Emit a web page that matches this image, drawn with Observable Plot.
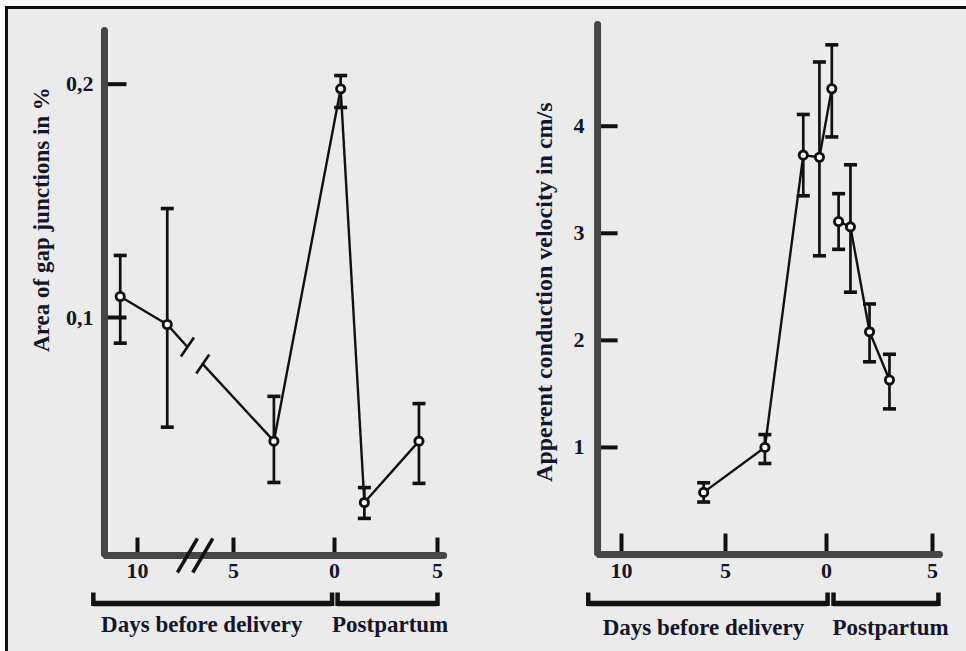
<!DOCTYPE html>
<html>
<head>
<meta charset="utf-8">
<script src="https://cdn.jsdelivr.net/npm/d3@7"></script>
<script src="https://cdn.jsdelivr.net/npm/@observablehq/plot@0.6"></script>
<style>
  body { margin: 0; background: #fff; }
  #page { position: relative; width: 966px; height: 651px; overflow: hidden; background: #fff; }
  #sheet { position: absolute; left: 5px; top: 6px; right: 0; bottom: 0;
           border-top: 3px solid #111; border-left: 3px solid #111; background: #ebebeb; }
  #page svg { position: absolute; left: 0; top: 0; }
</style>
</head>
<body>
<div id="page"><div id="sheet"></div></div>
<script>
// Left panel: area of gap junctions (%) around delivery (negative days = before delivery)
const gapDays = [-10.9, -8.45, -3.0, 0.3, 1.45, 4.1];
const gapArea = [0.109, 0.097, 0.047, 0.198, 0.0207, 0.047];
const gapLow  = [0.089, 0.053, 0.0293, 0.190, 0.0139, 0.0289];
const gapHigh = [0.1266, 0.1467, 0.0662, 0.2037, 0.0271, 0.0631];
const gapBreakDays = [-7.4, -6.6];           // interruption of the time axis

// Right panel: apparent conduction velocity (cm/s)
const velDays  = [-6.05, -3.05, -1.15, -0.35, 0.25, 0.57, 1.13, 2.03, 2.97];
const velocity = [0.58, 1.0, 3.73, 3.71, 4.35, 3.11, 3.06, 2.08, 1.63];
const velLow   = [0.49, 0.85, 3.35, 2.79, 3.90, 2.85, 2.45, 1.80, 1.36];
const velHigh  = [0.67, 1.12, 4.11, 4.60, 4.76, 3.37, 3.64, 2.34, 1.87];
const velRun   = [1, 1, 1, 1, 1, 2, 2, 2, 2];   // connected runs of the trace

// Axes
const dayTicks = [-10, -5, 0, 5];
const dayTickLabels = ["10", "5", "0", "5"];
const gapTicks = [0.1, 0.2];
const gapTickLabels = ["0,1", "0,2"];
const velTicks = [1, 2, 3, 4];
const velTickLabels = ["1", "2", "3", "4"];
const periodNames = ["Days before delivery", "Postpartum"];

const ink = "#111";
const textInk = "#16162a";
const axisGray = "#474747";
const serif = "'Liberation Serif', 'Times New Roman', serif";

// small stroke-only glyphs used with Plot.dot
const seg = (x1, y1, x2, y2) => ({ draw(c) { c.moveTo(x1, y1); c.lineTo(x2, y2); } });
const cap = seg(-6.5, 0, 6.5, 0);

function panel(cfg) {
  const rows = cfg.days.map((d, i) => ({ day: d, v: cfg.values[i], low: cfg.low[i], high: cfg.high[i] }));
  const [x0, x1] = cfg.axisDays;
  const [v0, v1] = cfg.axisValues;
  const axisPath = [{ day: x0, v: v1 }, { day: x0, v: v0 }, { day: x1, v: v0 }];
  const periods = periodNames.map((name, i) => ({
    name, from: cfg.spans[i][0], to: cfg.spans[i][1], center: cfg.labelCenters[i]
  }));
  const periodEnds = periods.flatMap(p => [p.from, p.to]);
  const txt = { fontFamily: serif, fontWeight: "bold", fill: textInk };

  return Plot.plot({
    width: 966, height: 651, margin: 0,
    style: { background: "transparent", overflow: "visible", fontFamily: serif },
    x: { type: "linear", domain: cfg.xDomain, range: cfg.xRange, axis: null },
    y: { type: "linear", domain: cfg.yDomain, range: cfg.yRange, axis: null },
    marks: [
      // tick marks, drawn inside the axes
      Plot.dot(cfg.yTicks, { x: () => x0, y: d => d, symbol: seg(0, 0, cfg.yTickLen, 0),
        fill: "none", stroke: ink, strokeWidth: 4 }),
      Plot.dot(dayTicks, { x: d => d, y: () => v0, symbol: seg(0, 0, 0, -cfg.xTickLen),
        fill: "none", stroke: ink, strokeWidth: 4 }),
      // axis lines
      Plot.line(axisPath, { x: "day", y: "v", stroke: axisGray, strokeWidth: 7,
        strokeLinejoin: "miter", strokeLinecap: "round" }),
      // axis break
      Plot.dot(cfg.axisBreaks, { x: d => d, y: () => v0, symbol: seg(-10, 17, 10, -17),
        fill: "none", stroke: ink, strokeWidth: 3.5 }),
      // tick labels
      Plot.text(dayTicks, { x: d => d, y: () => v0, text: (d, i) => dayTickLabels[i],
        dy: cfg.xLabelDy, fontSize: 22, ...txt }),
      Plot.text(cfg.yTicks, { x: () => x0, y: d => d, text: (d, i) => cfg.yTickLabels[i],
        textAnchor: "end", dx: cfg.yLabelDx, fontSize: 22, ...txt }),
      // axis title
      Plot.text([cfg.title], { x: () => x0, y: () => cfg.titleAt, text: d => d,
        rotate: -90, dx: cfg.titleDx, fontSize: cfg.titleSize, ...txt }),
      // period brackets under the time axis
      Plot.ruleY(periods, { y: () => v0, x1: "from", x2: "to", dy: cfg.bracketDy,
        stroke: ink, strokeWidth: 5.5 }),
      Plot.dot(periodEnds, { x: d => d, y: () => v0, dy: cfg.bracketDy,
        symbol: seg(0, 2.5, 0, -11), fill: "none", stroke: ink, strokeWidth: 4.5 }),
      Plot.text(periods, { x: "center", y: () => v0, text: "name", dy: cfg.periodDy,
        fontSize: 23, ...txt }),
      // data trace
      Plot.line(cfg.trace, { x: "day", y: "v", z: "run", stroke: ink, strokeWidth: 2.4 }),
      ...cfg.extraMarks,
      // error bars
      Plot.ruleX(rows, { x: "day", y1: "low", y2: "high", stroke: ink, strokeWidth: 2.7 }),
      Plot.dot(rows, { x: "day", y: "low", symbol: cap, fill: "none", stroke: ink, strokeWidth: 3.6 }),
      Plot.dot(rows, { x: "day", y: "high", symbol: cap, fill: "none", stroke: ink, strokeWidth: 3.6 }),
      // means
      Plot.dot(rows, { x: "day", y: "v", r: 4.1, fill: "white", stroke: ink, strokeWidth: 2.9 })
    ]
  });
}

// left trace, interrupted where the time axis is broken
const gapRows = gapDays.map((d, i) => ({ day: d, v: gapArea[i] }));
const along = d => {
  const a = gapRows[1], b = gapRows[2];
  return a.v + (b.v - a.v) * (d - a.day) / (b.day - a.day);
};
const gapBreaks = gapBreakDays.map(d => ({ day: d, v: along(d) }));
const gapTrace = [
  ...gapRows.slice(0, 2).map(r => ({ ...r, run: 1 })),
  { ...gapBreaks[0], run: 1 },
  { ...gapBreaks[1], run: 2 },
  ...gapRows.slice(2).map(r => ({ ...r, run: 2 }))
];

const left = panel({
  days: gapDays, values: gapArea, low: gapLow, high: gapHigh,
  xDomain: [-10, -5, 0, 5], xRange: [137, 233, 334, 437],
  yDomain: [-0.002, 0.223], yRange: [555, 30],
  axisDays: [-11.72, 5.3], axisValues: [-0.002, 0.223],
  yTicks: gapTicks, yTickLabels: gapTickLabels,
  yTickLen: 22, xTickLen: 18, xLabelDy: 15, yLabelDx: -11,
  axisBreaks: gapBreakDays,
  title: "Area of gap junctions in %", titleAt: 0.142, titleDx: -63, titleSize: 23,
  spans: [[-12.3, -0.12], [0.15, 5.0]], labelCenters: [-6.65, 2.7],
  bracketDy: 48, periodDy: 69,
  trace: gapTrace,
  extraMarks: [
    Plot.dot(gapBreaks, { x: "day", y: "v", symbol: seg(-6.5, 9.5, 6.5, -9.5),
      fill: "none", stroke: ink, strokeWidth: 2.6 })
  ]
});

const velTrace = velDays.map((d, i) => ({ day: d, v: velocity[i], run: velRun[i] }));
const right = panel({
  days: velDays, values: velocity, low: velLow, high: velHigh,
  xDomain: [-10, -5, 0, 5], xRange: [621, 725, 826, 932],
  yDomain: [0, 4.95], yRange: [554, 24],
  axisDays: [-11.15, 5.33], axisValues: [0, 4.95],
  yTicks: velTicks, yTickLabels: velTickLabels,
  yTickLen: 20, xTickLen: 21, xLabelDy: 16, yLabelDx: -13,
  axisBreaks: [],
  title: "Apperent conduction velocity in cm/s", titleAt: 2.45, titleDx: -53.5, titleSize: 24,
  spans: [[-11.6, 0.05], [0.33, 5.28]], labelCenters: [-6.06, 3.02],
  bracketDy: 49, periodDy: 73,
  trace: velTrace,
  extraMarks: []
});

const page = document.getElementById("page");
page.appendChild(left);
page.appendChild(right);
</script>
</body>
</html>
